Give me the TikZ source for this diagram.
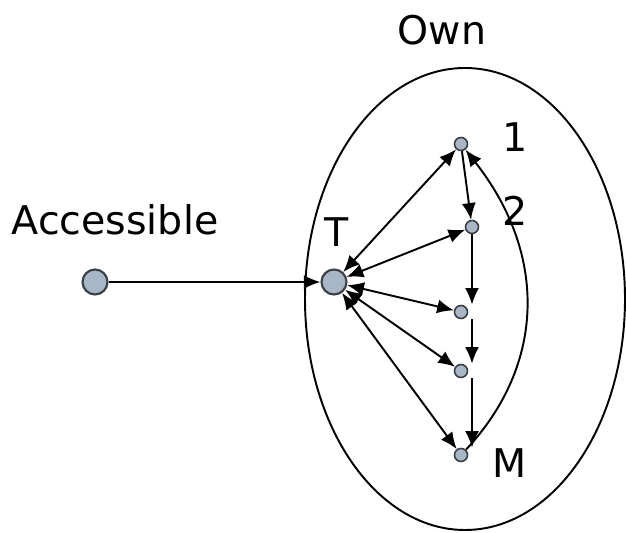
\documentclass[tikz,border=0pt]{standalone}
\usepackage{fontspec}
\setmainfont{DejaVu Sans}
\usetikzlibrary{arrows.meta}
\definecolor{nodefill}{HTML}{A7B7C7}
\definecolor{nodedraw}{HTML}{3A3F44}
\begin{document}
\begin{tikzpicture}[x=0.02cm,y=-0.02cm,
  big/.style={circle,draw=nodedraw,fill=nodefill,line width=1.2pt,minimum size=0.5cm,inner sep=0pt},
  small/.style={circle,draw=nodedraw,fill=nodefill,line width=0.9pt,minimum size=0.26cm,inner sep=0pt},
  lbl/.style={font=\fontsize{22.5}{26}\selectfont,inner sep=0pt},
  conn/.style={line width=1.1pt,-{Latex[length=9.5pt,width=8pt]}},
  both/.style={line width=1.1pt,{Latex[length=9.5pt,width=8pt]}-{Latex[length=9.5pt,width=8pt]}}]
\useasboundingbox (0,0) rectangle (626,533);
\draw[line width=1.1pt] (465,299) ellipse [x radius=160, y radius=231];
\node[big] (A) at (95,282) {};
\node[big] (T) at (334,282) {};
\node[small] (n1) at (461,144) {};
\node[small] (n2) at (472,227) {};
\node[small] (n3) at (461,312) {};
\node[small] (n4) at (461,371) {};
\node[small] (M) at (461,455) {};
\node[lbl] (own) at (442,30) {Own};
\node[lbl] (acc) at (115,220) {Accessible};
\node[lbl] (tl) at (337,232) {T};
\node[lbl] (l1) at (515,137) {1};
\node[lbl] (l2) at (515,211) {2};
\node[lbl] (lm) at (510,463) {M};
\draw[conn] (A) -- (T);
\draw[both] (T) -- (n1);
\draw[both] (T) -- (n2);
\draw[both] (T) -- (n3);
\draw[both] (T) -- (n4);
\draw[both] (T) -- (M);
\draw[conn] (n1) -- (n2);
\draw[conn] (n2.south) -- (n2.south |- n3.north);
\draw[conn] (n2.south |- n3.south) -- (n2.south |- n4.north);
\draw[conn] (n2.south |- n4.south) -- (n2.south |- M.north);
\draw[conn] (M) .. controls (545,365) and (548,255) .. (n1);
\end{tikzpicture}
\end{document}
